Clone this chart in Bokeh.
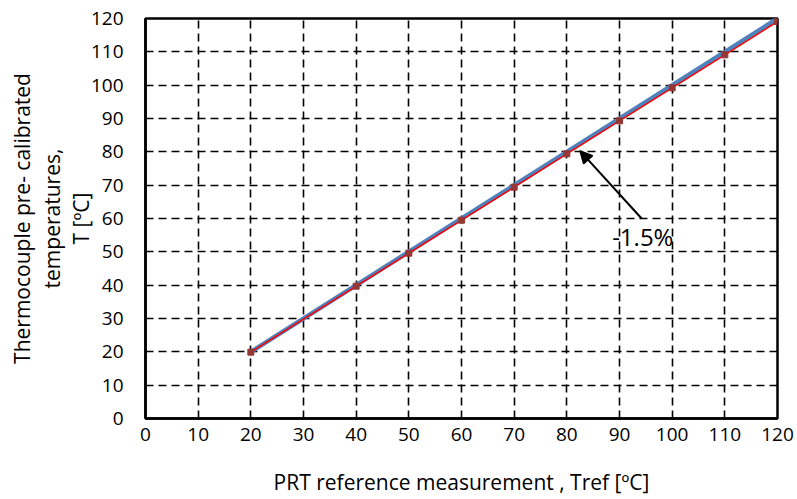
from bokeh.plotting import figure
from bokeh.models import Range1d, FixedTicker, Arrow, NormalHead, Label
from bokeh.embed import file_html
from bokeh.resources import INLINE

# data
t_ref = [20, 40, 50, 60, 70, 80, 90, 100, 110, 120]
t_tc = [19.9, 39.7, 49.6, 59.5, 69.4, 79.4, 89.3, 99.2, 109.1, 119.1]
ideal_x = [20, 120]
ideal_y = [20, 120]
ticks = list(range(0, 121, 10))
y_title = "Thermocouple pre- calibrated\ntemperatures,\nT [ºC]"
x_title = "PRT reference measurement , Tref [ºC]"

FONT = "Open Sans"

p = figure(width=797, height=499, output_backend="svg", toolbar_location=None,
           x_range=Range1d(0, 120), y_range=Range1d(0, 120),
           min_border_left=145, min_border_right=20, min_border_top=18, min_border_bottom=81)
p.background_fill_color = "white"
p.border_fill_color = "white"
p.outline_line_color = "black"
p.outline_line_width = 2.5

for ax in (p.xaxis, p.yaxis):
    ax.ticker = FixedTicker(ticks=ticks)
    ax.axis_line_color = "black"
    ax.axis_line_width = 2.5
    ax.major_tick_in = 0
    ax.major_tick_out = 0
    ax.minor_tick_line_color = None
    ax.major_label_text_font = FONT
    ax.major_label_text_font_size = "19px"
    ax.major_label_text_color = "black"
    ax.axis_label_text_font = FONT
    ax.axis_label_text_font_size = "21px"
    ax.axis_label_text_font_style = "normal"
    ax.axis_label_text_color = "black"

p.xaxis.major_label_standoff = 9
p.yaxis.major_label_standoff = 22
p.xaxis.axis_label = x_title
p.xaxis.axis_label_standoff = 24
p.yaxis.axis_label = y_title
p.yaxis.axis_label_text_line_height = 1.05
p.yaxis.axis_label_standoff = -7

for g in (p.xgrid, p.ygrid):
    g.grid_line_color = "black"
    g.grid_line_width = 1.6
    g.grid_line_dash = "8 5"
    g.ticker = FixedTicker(ticks=ticks)

# ideal line (blue)
p.line(ideal_x, ideal_y, line_color="#4F81BD", line_width=4.5)
# thermocouple (red with squares)
p.line(t_ref, t_tc, line_color="#FF0000", line_width=1.5)
p.scatter(t_ref, t_tc, marker="square", size=6, fill_color="#953735", line_color="#953735")

p.add_layout(Arrow(end=NormalHead(size=12, fill_color="black", line_color="black", line_width=1.5),
                   x_start=94.2, y_start=60.0, x_end=82.5, y_end=80.3,
                   line_color="black", line_width=2))
p.add_layout(Label(x=88.6, y=54.5, text="-1.5%", text_font=FONT, text_font_size="24px",
                   text_baseline="middle", text_align="left", text_color="black"))

open("out.html", "w").write(file_html(p, INLINE))
